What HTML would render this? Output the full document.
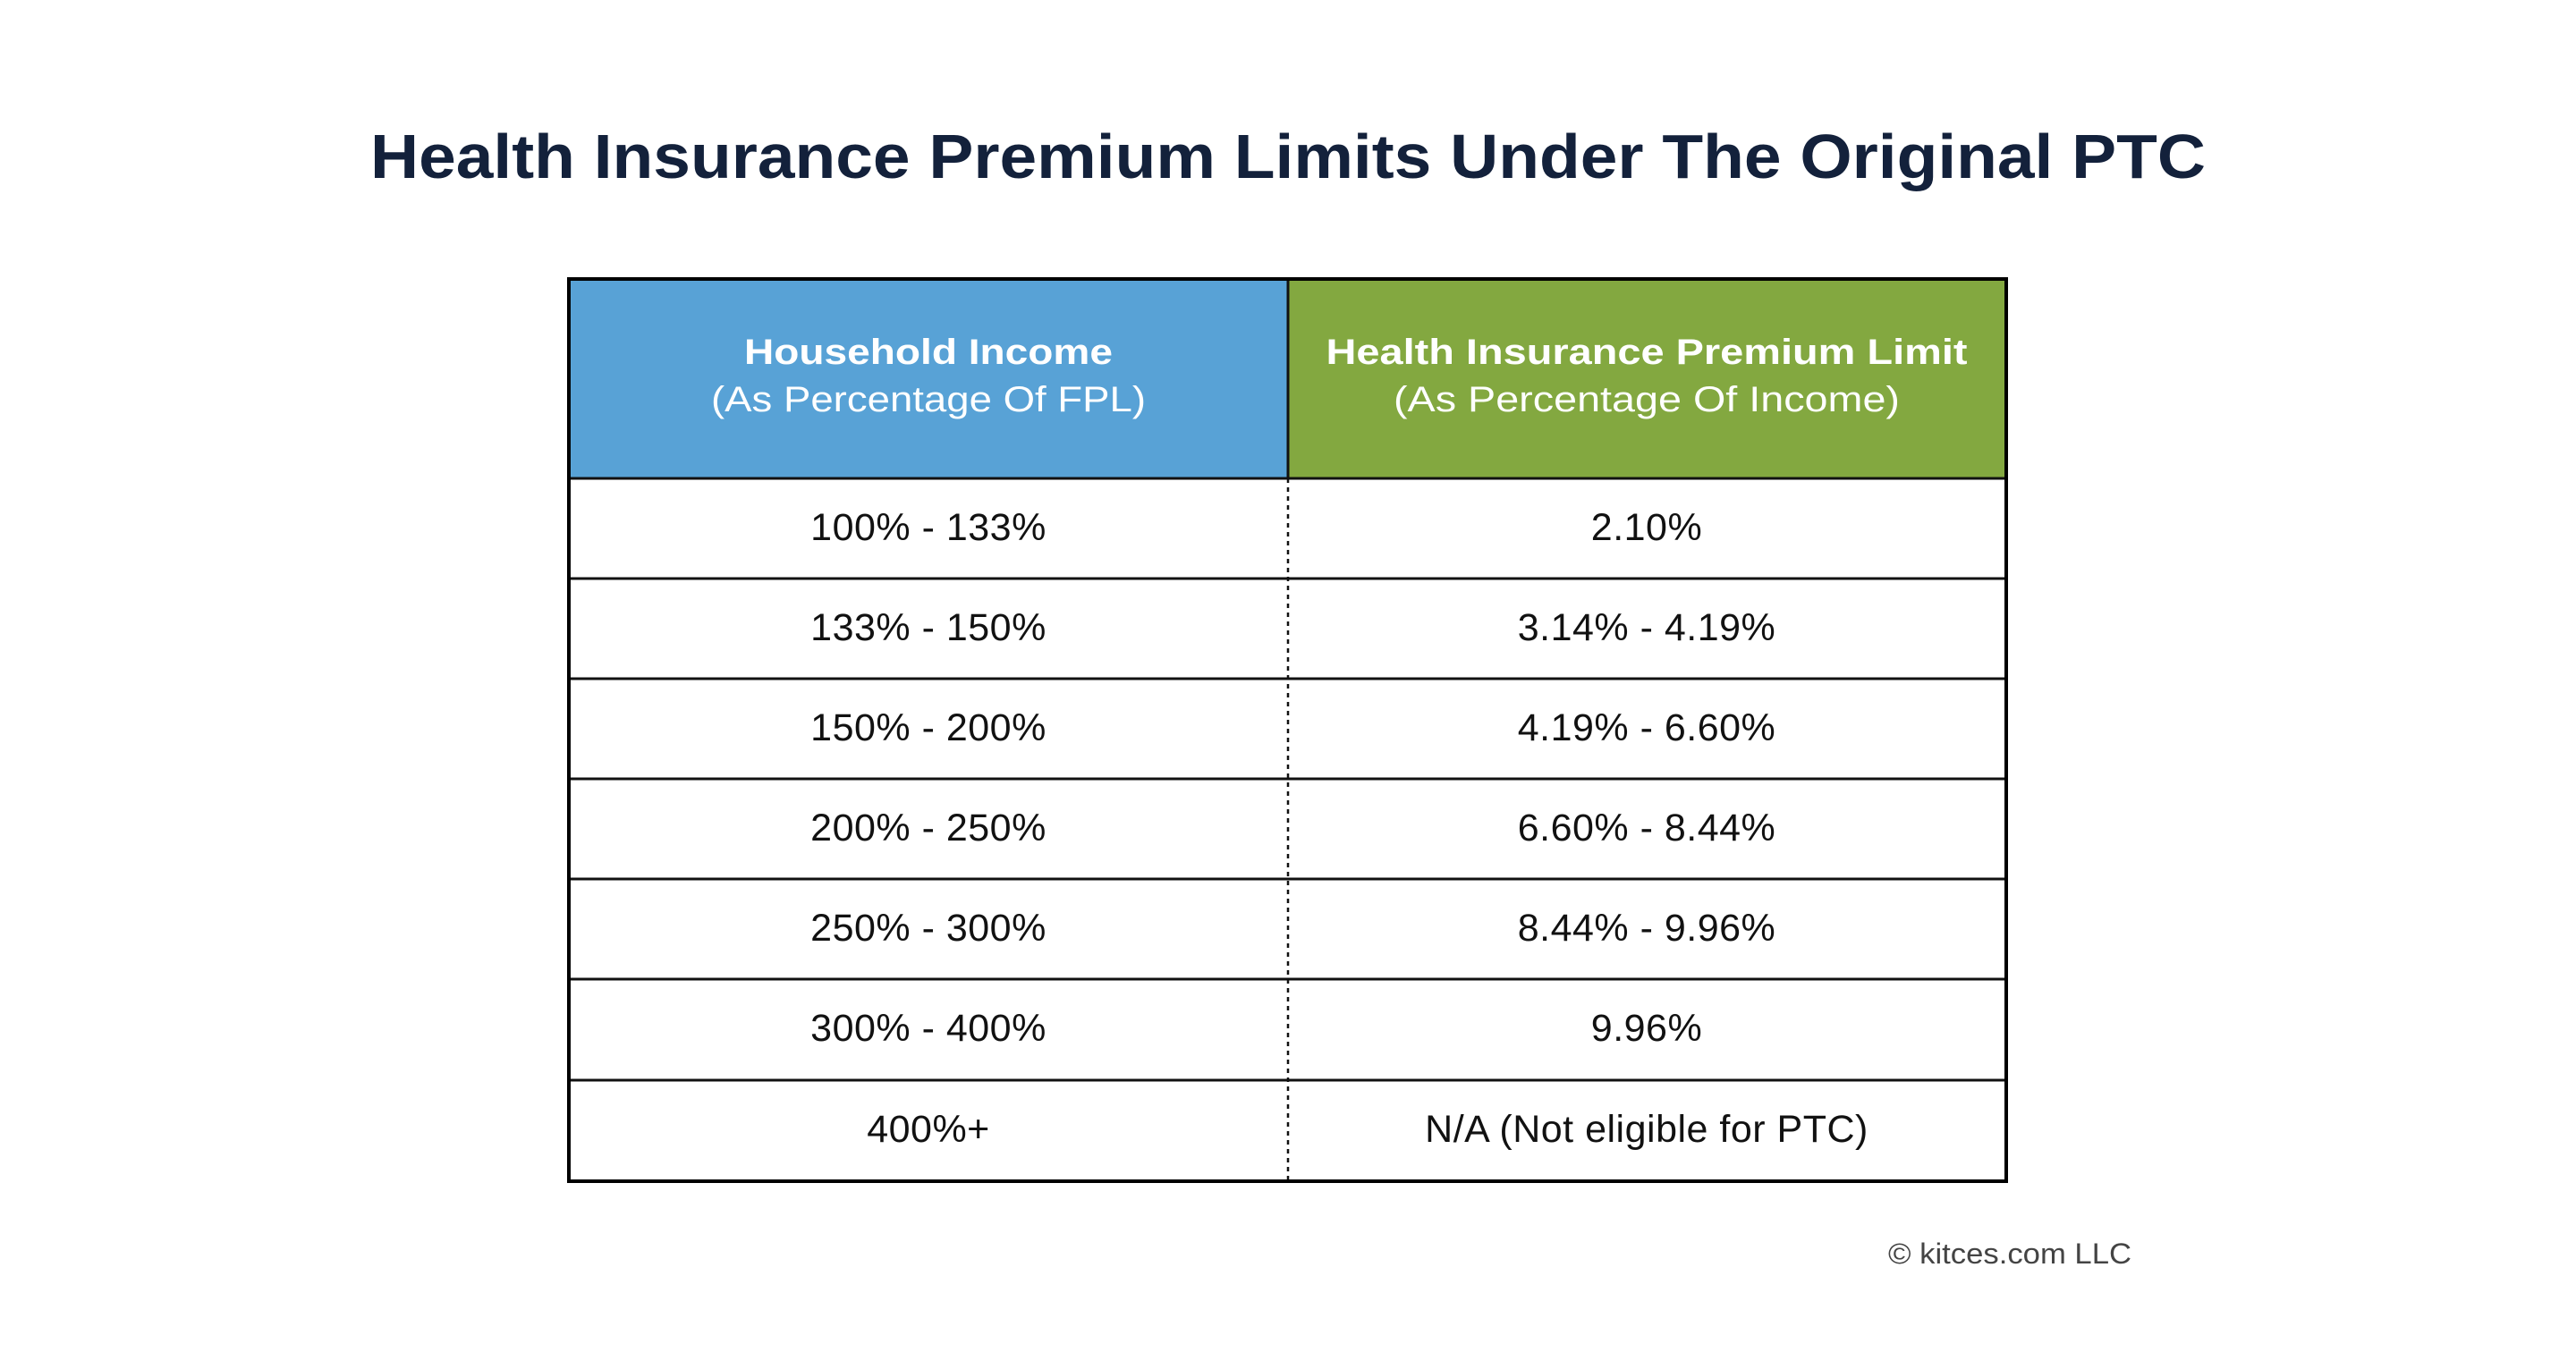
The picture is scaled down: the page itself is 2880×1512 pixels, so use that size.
<!DOCTYPE html>
<html><head><meta charset="utf-8"><style>html,body{margin:0;padding:0;background:#fff}svg{display:block}</style></head>
<body>
<svg width="2880" height="1512" viewBox="0 0 2880 1512" xmlns="http://www.w3.org/2000/svg" font-family="Liberation Sans, sans-serif">
<rect width="2880" height="1512" fill="#fff"/>
<text x="1440" y="199" text-anchor="middle" font-size="70" font-weight="bold" fill="#13213b" textLength="2052" lengthAdjust="spacingAndGlyphs">Health Insurance Premium Limits Under The Original PTC</text>
<rect x="636" y="312" width="804" height="223" fill="#58a2d6"/>
<rect x="1440" y="312" width="803" height="223" fill="#83a840"/>
<text x="1038" y="407" text-anchor="middle" font-size="40" font-weight="bold" fill="#fff" textLength="412" lengthAdjust="spacingAndGlyphs">Household Income</text>
<text x="1038" y="460" text-anchor="middle" font-size="40" fill="#fff" textLength="486" lengthAdjust="spacingAndGlyphs">(As Percentage Of FPL)</text>
<text x="1841" y="407" text-anchor="middle" font-size="40" font-weight="bold" fill="#fff" textLength="717" lengthAdjust="spacingAndGlyphs">Health Insurance Premium Limit</text>
<text x="1841" y="460" text-anchor="middle" font-size="40" fill="#fff" textLength="566" lengthAdjust="spacingAndGlyphs">(As Percentage Of Income)</text>
<g stroke="#111" stroke-width="3">
<line x1="636" y1="535" x2="2243" y2="535"/>
<line x1="636" y1="647" x2="2243" y2="647"/>
<line x1="636" y1="759" x2="2243" y2="759"/>
<line x1="636" y1="871" x2="2243" y2="871"/>
<line x1="636" y1="983" x2="2243" y2="983"/>
<line x1="636" y1="1095" x2="2243" y2="1095"/>
<line x1="636" y1="1208" x2="2243" y2="1208"/>
<line x1="1440" y1="312" x2="1440" y2="535"/>
</g>
<line x1="1440" y1="535" x2="1440" y2="1320" stroke="#111" stroke-width="2.5" stroke-dasharray="5,5"/>
<rect x="636" y="312" width="1607" height="1009" fill="none" stroke="#000" stroke-width="4"/>
<g font-size="43" fill="#111" text-anchor="middle" letter-spacing="0.5">
<text x="1038" y="604">100% - 133%</text><text x="1841" y="604">2.10%</text>
<text x="1038" y="716">133% - 150%</text><text x="1841" y="716">3.14% - 4.19%</text>
<text x="1038" y="828">150% - 200%</text><text x="1841" y="828">4.19% - 6.60%</text>
<text x="1038" y="940">200% - 250%</text><text x="1841" y="940">6.60% - 8.44%</text>
<text x="1038" y="1052">250% - 300%</text><text x="1841" y="1052">8.44% - 9.96%</text>
<text x="1038" y="1164">300% - 400%</text><text x="1841" y="1164">9.96%</text>
<text x="1038" y="1277">400%+</text><text x="1841" y="1277">N/A (Not eligible for PTC)</text>
</g>
<text x="2247" y="1413" text-anchor="middle" font-size="32" fill="#444" textLength="272" lengthAdjust="spacingAndGlyphs">© kitces.com LLC</text>
</svg>
</body></html>
